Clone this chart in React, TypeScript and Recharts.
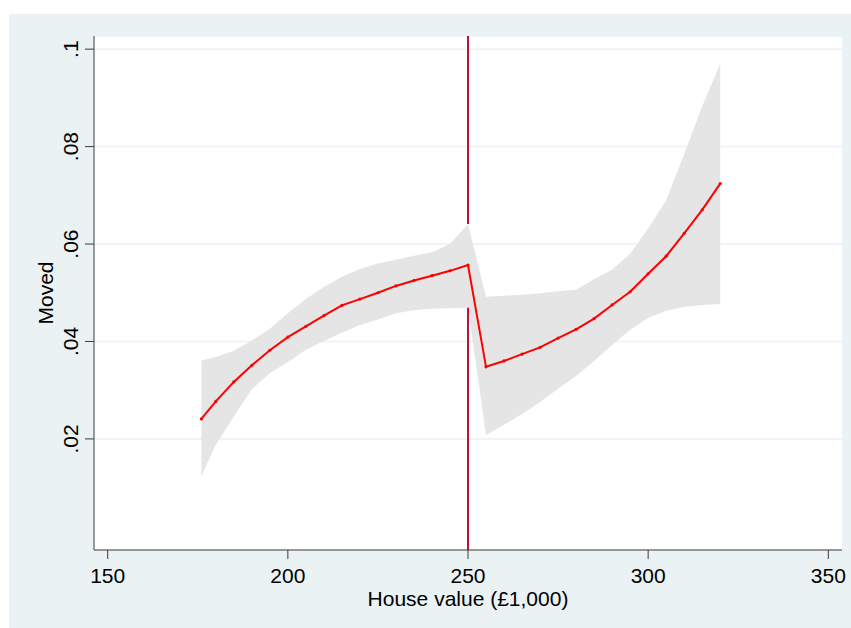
import React from 'react';
import { ComposedChart, Area, Line, XAxis, YAxis, CartesianGrid, Label } from 'recharts';

// House value (£1,000) at each evaluated point
const houseValue = [
  176, 180, 185, 190, 195, 200, 205, 210, 215, 220, 225, 230, 235, 240, 245, 250,
  255, 260, 265, 270, 275, 280, 285, 290, 295, 300, 305, 310, 315, 320,
];

// fitted share moved
const fitted = [
  0.0241, 0.0277, 0.0317, 0.0351, 0.0382, 0.0409, 0.0431, 0.0453, 0.0474, 0.0487, 0.05, 0.0514, 0.0525, 0.0535, 0.0545, 0.0557,
  0.0348, 0.036, 0.0374, 0.0388, 0.0407, 0.0425, 0.0447, 0.0475, 0.0502, 0.0539, 0.0575, 0.0622, 0.067, 0.0724,
];

// confidence band
const ciLower = [
  0.0124, 0.0188, 0.0246, 0.0302, 0.0335, 0.0358, 0.0383, 0.0401, 0.0418, 0.0434, 0.0445, 0.0458, 0.0464, 0.0467, 0.0468, 0.0469,
  0.0208, 0.0229, 0.0251, 0.0276, 0.0303, 0.0329, 0.036, 0.0393, 0.0424, 0.0448, 0.0463, 0.0471, 0.0475, 0.0477,
];
const ciUpper = [
  0.0361, 0.0368, 0.0381, 0.0402, 0.0426, 0.0458, 0.0487, 0.0512, 0.0533, 0.0549, 0.056, 0.0568, 0.0576, 0.0583, 0.06, 0.0641,
  0.0492, 0.0494, 0.0496, 0.0499, 0.0503, 0.0506, 0.0528, 0.0547, 0.058, 0.0632, 0.069, 0.0785, 0.0883, 0.097,
];

const cutoff = 250;
const xDomain = [146.2, 353.8];
const yDomain = [-0.0028, 0.1027];
const xTicks = [150, 200, 250, 300, 350];
const yTicks = [0.02, 0.04, 0.06, 0.08, 0.1];

const rows = houseValue.map((x, i) => ({ x, fit: fitted[i], band: [ciLower[i], ciUpper[i]] }));

// cutoff line: hidden where the band covers it
const ci = houseValue.indexOf(cutoff);
const cutoffRows = [yDomain[0], ciLower[ci], null, ciUpper[ci], yDomain[1]].map((v) => ({ x: cutoff, cut: v }));

const font = '"Liberation Sans", Arial, sans-serif';
const axisColor = '#3c3c3c';

const fmtY = (v: number) => (v === 0.1 ? '.1' : v.toFixed(2).replace(/^0/, ''));

const YTick = (props: any) => {
  const { x, y, payload } = props;
  const bx = x - 4.7;
  return (
    <text x={bx} y={y} transform={`rotate(-90 ${bx} ${y})`} textAnchor="middle" fontSize={21} fontFamily={font} fill="#000">
      {fmtY(payload.value)}
    </text>
  );
};

export default function App() {
  return (
    <div style={{ position: 'absolute', left: 9, top: 14, width: 842, height: 614, background: '#eaf2f3' }}>
      <ComposedChart width={842} height={614} data={rows} margin={{ top: 22, right: 9, bottom: 0, left: 0 }}>
        <CartesianGrid vertical={false} stroke="#eaf2f3" strokeWidth={1.5} fill="#ffffff" />
        <XAxis
          type="number"
          dataKey="x"
          domain={xDomain}
          ticks={xTicks}
          allowDataOverflow
          height={78}
          tickSize={9}
          tickMargin={9}
          stroke={axisColor}
          tick={{ fill: '#000', fontSize: 21, fontFamily: font }}
        >
          <Label
            content={(p: any) => {
              const vb = p.viewBox;
              return (
                <text x={vb.x + vb.width / 2} y={vb.y + 56} textAnchor="middle" fontSize={21} fontFamily={font} fill="#000">
                  House value (£1,000)
                </text>
              );
            }}
          />
        </XAxis>
        <YAxis
          type="number"
          domain={yDomain}
          ticks={yTicks}
          allowDataOverflow
          width={85}
          tickSize={9}
          tickMargin={2}
          stroke={axisColor}
          tick={<YTick />}
        >
          <Label
            content={(p: any) => {
              const vb = p.viewBox;
              const cx = vb.x + 44;
              const cy = vb.y + vb.height / 2;
              return (
                <text x={cx} y={cy} transform={`rotate(-90 ${cx} ${cy})`} textAnchor="middle" fontSize={21} fontFamily={font} fill="#000">
                  Moved
                </text>
              );
            }}
          />
        </YAxis>
        <Area
          type="linear"
          dataKey="band"
          stroke="none"
          fill="#e5e5e5"
          fillOpacity={1}
          isAnimationActive={false}
          activeDot={false}
        />
        <Line
          data={cutoffRows}
          type="linear"
          dataKey="cut"
          stroke="#c0103c"
          strokeWidth={2}
          dot={false}
          activeDot={false}
          connectNulls={false}
          isAnimationActive={false}
        />
        <Line
          type="linear"
          dataKey="fit"
          stroke="#ff0000"
          strokeWidth={2}
          dot={{ r: 1.6, fill: '#ff0000', stroke: 'none' }}
          activeDot={false}
          isAnimationActive={false}
        />
      </ComposedChart>
    </div>
  );
}
